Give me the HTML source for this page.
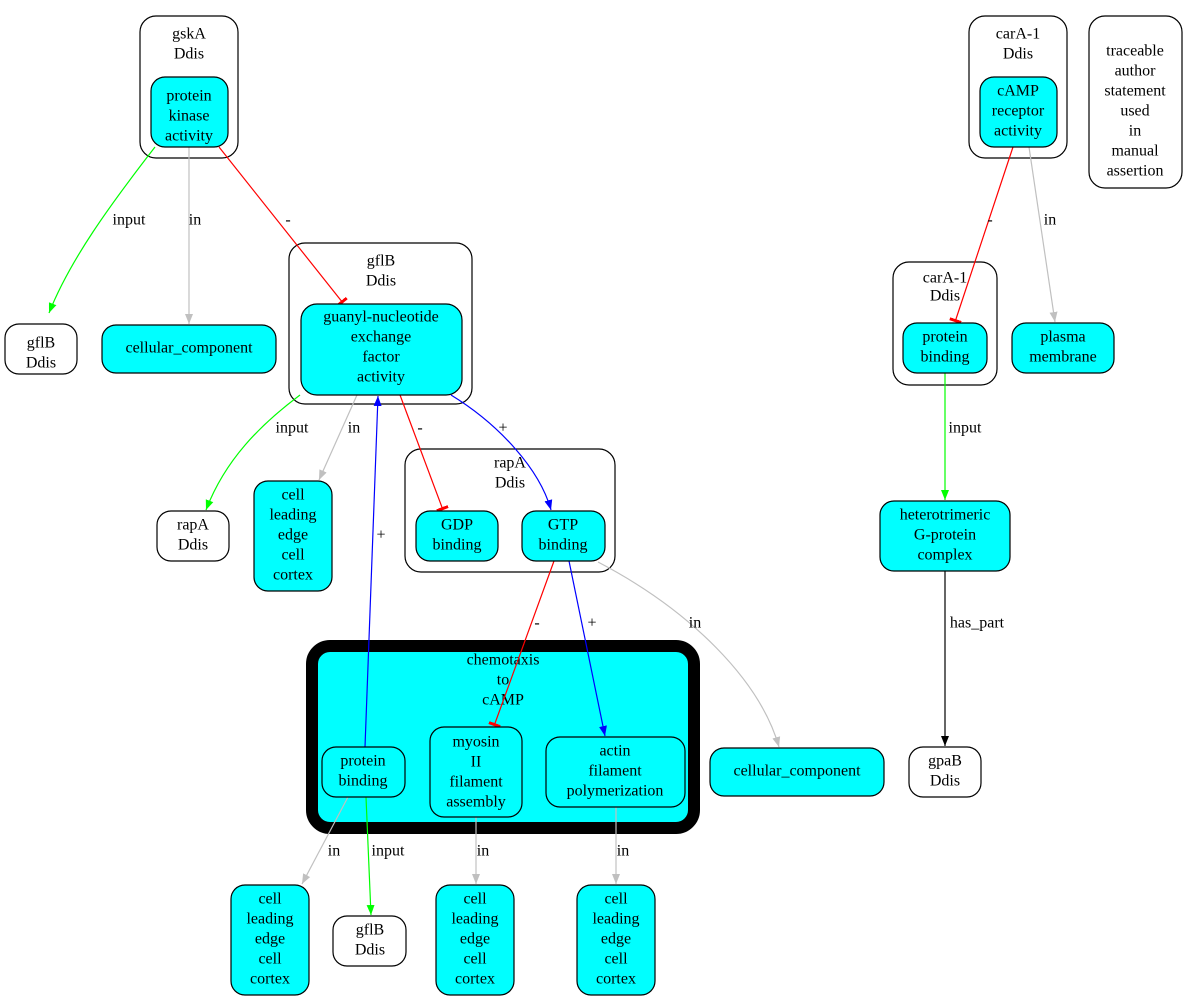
<!DOCTYPE html>
<html><head><meta charset="utf-8"><style>
html,body{margin:0;padding:0;background:#fff}
svg{display:block}
text{font-family:"Liberation Serif",serif;font-size:16px;text-anchor:middle;dominant-baseline:middle;fill:#000}
.n{stroke:#000;stroke-width:1.2}
.c{fill:#00ffff}
.w{fill:#fff}
.e{fill:none;stroke-width:1.2}
</style></head><body>
<svg width="1188" height="1002" viewBox="0 0 1188 1002" xmlns="http://www.w3.org/2000/svg">
<defs>
<marker id="ag" viewBox="0 0 10 10" refX="10" refY="5" markerWidth="10" markerHeight="10" markerUnits="userSpaceOnUse" orient="auto"><path d="M0,1L10,5L0,9z" fill="#00ff00"/></marker>
<marker id="ay" viewBox="0 0 10 10" refX="10" refY="5" markerWidth="10" markerHeight="10" markerUnits="userSpaceOnUse" orient="auto"><path d="M0,1L10,5L0,9z" fill="#c0c0c0"/></marker>
<marker id="ab" viewBox="0 0 10 10" refX="10" refY="5" markerWidth="10" markerHeight="10" markerUnits="userSpaceOnUse" orient="auto"><path d="M0,1L10,5L0,9z" fill="#0000ff"/></marker>
<marker id="ak" viewBox="0 0 10 10" refX="10" refY="5" markerWidth="10" markerHeight="10" markerUnits="userSpaceOnUse" orient="auto"><path d="M0,1L10,5L0,9z" fill="#000"/></marker>
<marker id="tr" viewBox="0 0 4 12" refX="3" refY="6" markerWidth="4" markerHeight="12" markerUnits="userSpaceOnUse" orient="auto"><rect x="0" y="0" width="3" height="12" fill="#ff0000"/></marker>
</defs>

<!-- clusters -->
<rect x="140" y="16" width="98" height="142" rx="16" class="n w"/>
<text x="189" y="35">gskA</text><text x="189" y="55">Ddis</text>
<rect x="289" y="243" width="183" height="161" rx="16" class="n w"/>
<text x="381" y="262">gflB</text><text x="381" y="282">Ddis</text>
<rect x="405" y="449" width="210" height="123" rx="16" class="n w"/>
<text x="510" y="464">rapA</text><text x="510" y="484">Ddis</text>
<rect x="969" y="16" width="98" height="142" rx="16" class="n w"/>
<text x="1018" y="35">carA-1</text><text x="1018" y="55">Ddis</text>
<rect x="893" y="262" width="104" height="123" rx="16" class="n w"/>
<text x="945" y="279">carA-1</text><text x="945" y="297">Ddis</text>
<rect x="312" y="646" width="382" height="182" rx="18" fill="#00ffff" stroke="#000" stroke-width="12"/>
<text x="503" y="661">chemotaxis</text><text x="503" y="681">to</text><text x="503" y="701">cAMP</text>

<!-- edges -->
<path class="e" stroke="#00ff00" d="M155,147 C110,205 70,260 49,313" marker-end="url(#ag)"/>
<path class="e" stroke="#c0c0c0" d="M189,147 L189,324" marker-end="url(#ay)"/>
<path class="e" stroke="#ff0000" d="M219,147 L343,303" marker-end="url(#tr)"/>
<path class="e" stroke="#00ff00" d="M300,395 C260,425 225,460 206,510" marker-end="url(#ag)"/>
<path class="e" stroke="#c0c0c0" d="M357,395 L319,480" marker-end="url(#ay)"/>
<path class="e" stroke="#0000ff" d="M365,747 L378,396" marker-end="url(#ab)"/>
<path class="e" stroke="#ff0000" d="M400,395 L443,510" marker-end="url(#tr)"/>
<path class="e" stroke="#0000ff" d="M451,395 C500,425 540,470 551,510" marker-end="url(#ab)"/>
<path class="e" stroke="#ff0000" d="M554,561 L494,726" marker-end="url(#tr)"/>
<path class="e" stroke="#0000ff" d="M569,561 L605,736" marker-end="url(#ab)"/>
<path class="e" stroke="#c0c0c0" d="M598,562 C690,610 760,680 779,747" marker-end="url(#ay)"/>
<path class="e" stroke="#ff0000" d="M1013,147 L955,322" marker-end="url(#tr)"/>
<path class="e" stroke="#c0c0c0" d="M1029,147 L1055,322" marker-end="url(#ay)"/>
<path class="e" stroke="#00ff00" d="M945,373 L945,500" marker-end="url(#ag)"/>
<path class="e" stroke="#000" d="M945,571 L945,746" marker-end="url(#ak)"/>
<path class="e" stroke="#c0c0c0" d="M348,797 L302,884" marker-end="url(#ay)"/>
<path class="e" stroke="#00ff00" d="M366,797 L371,915" marker-end="url(#ag)"/>
<path class="e" stroke="#c0c0c0" d="M476,817 L476,884" marker-end="url(#ay)"/>
<path class="e" stroke="#c0c0c0" d="M616,807 L616,884" marker-end="url(#ay)"/>

<!-- edge labels -->
<text x="129" y="221">input</text><text x="195" y="221">in</text><text x="288" y="221">-</text>
<text x="292" y="429">input</text><text x="354" y="429">in</text><text x="420" y="429">-</text><text x="503" y="429">+</text>
<text x="381" y="536">+</text>
<text x="537" y="624">-</text><text x="592" y="624">+</text><text x="695" y="624">in</text>
<text x="990" y="221">-</text><text x="1050" y="221">in</text>
<text x="965" y="429">input</text><text x="977" y="624">has_part</text>
<text x="334" y="852">in</text><text x="388" y="852">input</text><text x="483" y="852">in</text><text x="623" y="852">in</text>

<!-- nodes -->
<rect x="151" y="77" width="77" height="70" rx="14" class="n c"/>
<text x="189" y="97">protein</text><text x="189" y="117">kinase</text><text x="189" y="137">activity</text>
<rect x="5" y="324" width="72" height="50" rx="14" class="n w"/>
<text x="41" y="344">gflB</text><text x="41" y="364">Ddis</text>
<rect x="102" y="325" width="174" height="48" rx="14" class="n c"/>
<text x="189" y="349">cellular_component</text>
<rect x="301" y="304" width="161" height="91" rx="16" class="n c"/>
<text x="381" y="318">guanyl-nucleotide</text><text x="381" y="338">exchange</text><text x="381" y="358">factor</text><text x="381" y="378">activity</text>
<rect x="157" y="511" width="72" height="50" rx="14" class="n w"/>
<text x="193" y="526">rapA</text><text x="193" y="546">Ddis</text>
<rect x="254" y="481" width="78" height="110" rx="14" class="n c"/>
<text x="293" y="496">cell</text><text x="293" y="516">leading</text><text x="293" y="536">edge</text><text x="293" y="556">cell</text><text x="293" y="576">cortex</text>
<rect x="416" y="511" width="82" height="50" rx="14" class="n c"/>
<text x="457" y="526">GDP</text><text x="457" y="546">binding</text>
<rect x="522" y="511" width="83" height="50" rx="14" class="n c"/>
<text x="563" y="526">GTP</text><text x="563" y="546">binding</text>
<rect x="322" y="747" width="83" height="50" rx="14" class="n c"/>
<text x="363" y="762">protein</text><text x="363" y="782">binding</text>
<rect x="430" y="727" width="92" height="90" rx="14" class="n c"/>
<text x="476" y="743">myosin</text><text x="476" y="763">II</text><text x="476" y="783">filament</text><text x="476" y="803">assembly</text>
<rect x="546" y="737" width="139" height="70" rx="14" class="n c"/>
<text x="615" y="752">actin</text><text x="615" y="772">filament</text><text x="615" y="792">polymerization</text>
<rect x="710" y="748" width="174" height="48" rx="14" class="n c"/>
<text x="797" y="772">cellular_component</text>
<rect x="231" y="885" width="78" height="110" rx="14" class="n c"/>
<text x="270" y="900">cell</text><text x="270" y="920">leading</text><text x="270" y="940">edge</text><text x="270" y="960">cell</text><text x="270" y="980">cortex</text>
<rect x="436" y="885" width="78" height="110" rx="14" class="n c"/>
<text x="475" y="900">cell</text><text x="475" y="920">leading</text><text x="475" y="940">edge</text><text x="475" y="960">cell</text><text x="475" y="980">cortex</text>
<rect x="577" y="885" width="78" height="110" rx="14" class="n c"/>
<text x="616" y="900">cell</text><text x="616" y="920">leading</text><text x="616" y="940">edge</text><text x="616" y="960">cell</text><text x="616" y="980">cortex</text>
<rect x="333" y="916" width="73" height="50" rx="14" class="n w"/>
<text x="370" y="931">gflB</text><text x="370" y="951">Ddis</text>
<rect x="980" y="77" width="77" height="70" rx="14" class="n c"/>
<text x="1018" y="92">cAMP</text><text x="1018" y="112">receptor</text><text x="1018" y="132">activity</text>
<rect x="1089" y="16" width="93" height="172" rx="16" class="n w"/>
<text x="1135" y="52">traceable</text><text x="1135" y="72">author</text><text x="1135" y="92">statement</text><text x="1135" y="112">used</text><text x="1135" y="132">in</text><text x="1135" y="152">manual</text><text x="1135" y="172">assertion</text>
<rect x="903" y="323" width="84" height="50" rx="14" class="n c"/>
<text x="945" y="338">protein</text><text x="945" y="358">binding</text>
<rect x="1012" y="323" width="102" height="50" rx="14" class="n c"/>
<text x="1063" y="338">plasma</text><text x="1063" y="358">membrane</text>
<rect x="880" y="501" width="130" height="70" rx="14" class="n c"/>
<text x="945" y="516">heterotrimeric</text><text x="945" y="536">G-protein</text><text x="945" y="556">complex</text>
<rect x="909" y="747" width="72" height="50" rx="14" class="n w"/>
<text x="945" y="762">gpaB</text><text x="945" y="782">Ddis</text>
</svg>
</body></html>
